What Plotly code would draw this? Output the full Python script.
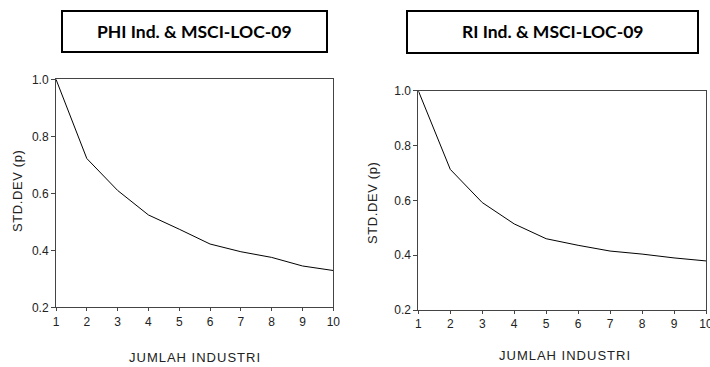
import plotly.graph_objects as go

industries = [1, 2, 3, 4, 5, 6, 7, 8, 9, 10]
phi_std = [1.0, 0.722, 0.610, 0.524, 0.474, 0.422, 0.395, 0.375, 0.345, 0.329]
ri_std = [1.0, 0.713, 0.592, 0.514, 0.460, 0.436, 0.415, 0.404, 0.390, 0.379]
titles = ["PHI Ind. & MSCI-LOC-09", "RI Ind. & MSCI-LOC-09"]
x_title = "JUMLAH INDUSTRI"
y_title = "STD.DEV (p)"
y_ticks = [0.2, 0.4, 0.6, 0.8, 1.0]
y_ticktext = ["0.2", "0.4", "0.6", "0.8", "1.0"]

W, H = 710, 367

fig = go.Figure()
fig.add_trace(go.Scatter(x=industries, y=phi_std, mode="lines",
                         line=dict(color="black", width=1), xaxis="x", yaxis="y",
                         showlegend=False, hoverinfo="skip"))
fig.add_trace(go.Scatter(x=industries, y=ri_std, mode="lines",
                         line=dict(color="black", width=1), xaxis="x2", yaxis="y2",
                         showlegend=False, hoverinfo="skip"))

tickfont = dict(family="Liberation Sans", size=12, color="#222")

def xa(domain, anchor):
    return dict(domain=domain, anchor=anchor, range=[1, 10], tickmode="array",
                tickvals=industries, ticks="outside", ticklen=3, tickcolor="#444",
                showline=True, linecolor="#444", linewidth=1, mirror=True,
                showgrid=False, zeroline=False, tickfont=tickfont, fixedrange=True,
                automargin=False, ticklabeloverflow="allow")

def ya(domain, anchor):
    return dict(domain=domain, anchor=anchor, range=[0.2, 1.0], tickmode="array",
                tickvals=y_ticks, ticktext=y_ticktext, ticks="outside", ticklen=4,
                tickcolor="#444", showline=True, linecolor="#444", linewidth=1,
                mirror=True, showgrid=False, zeroline=False, tickfont=tickfont,
                fixedrange=True, automargin=False)

L = dict(x0=56, x1=333.3, y0=79.3, y1=307.3)
R = dict(x0=418.3, x1=706, y0=90.7, y1=310)

fig.update_layout(
    width=W, height=H,
    margin=dict(l=0, r=0, t=0, b=0, autoexpand=False),
    paper_bgcolor="white", plot_bgcolor="white",
    xaxis=xa([L["x0"] / W, L["x1"] / W], "y"),
    yaxis=ya([1 - L["y1"] / H, 1 - L["y0"] / H], "x"),
    xaxis2=xa([R["x0"] / W, R["x1"] / W], "y2"),
    yaxis2=ya([1 - R["y1"] / H, 1 - R["y0"] / H], "x2"),
)

boxes = [(62, 327, 11, 52), (407, 698, 11, 53)]
for (x0, x1, y0, y1), t in zip(boxes, titles):
    fig.add_shape(type="rect", xref="paper", yref="paper",
                  x0=x0 / W, x1=x1 / W, y0=1 - y1 / H, y1=1 - y0 / H,
                  line=dict(color="black", width=2), fillcolor="white")
    fig.add_annotation(x=(x0 + x1) / 2 / W, y=1 - (y0 + y1) / 2 / H,
                       xref="paper", yref="paper", text="<b>" + t + "</b>",
                       showarrow=False, xanchor="center", yanchor="middle",
                       font=dict(family="Lato", size=17.5, color="black"))

axis_font = dict(family="Liberation Sans", size=13, color="#222")
spaced_x = '<span style="letter-spacing:1px">{}</span>'
spaced_y = '<span style="letter-spacing:0.6px">{}</span>'
for cx, cy in [(195, 357), (565, 355)]:
    fig.add_annotation(x=cx / W, y=1 - cy / H, xref="paper", yref="paper",
                       text=spaced_x.format(x_title), showarrow=False, xanchor="center",
                       yanchor="middle", font=axis_font)
for cx, cy in [(17, 191), (373, 203)]:
    fig.add_annotation(x=cx / W, y=1 - cy / H, xref="paper", yref="paper",
                       text=spaced_y.format(y_title), showarrow=False, xanchor="center",
                       yanchor="middle", textangle=-90, font=axis_font)

fig.write_html("out.html")
